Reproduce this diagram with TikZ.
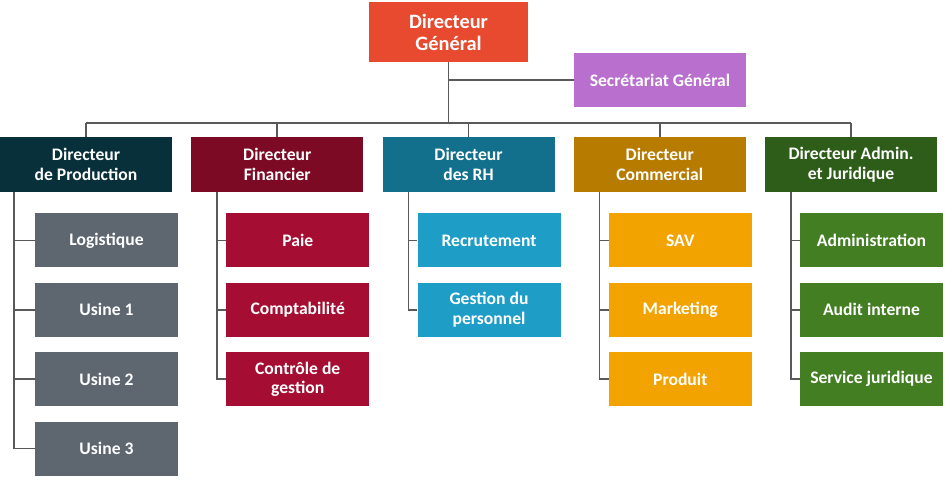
\documentclass[tikz,border=0pt]{standalone}
\usepackage{fontspec}
\setmainfont{Carlito}
\usetikzlibrary{positioning}

\definecolor{dgred}{HTML}{E84A2F}
\definecolor{secpurple}{HTML}{B86FCD}
\definecolor{prodhead}{HTML}{07303B}
\definecolor{prodsub}{HTML}{5E6670}
\definecolor{finhead}{HTML}{7C0A25}
\definecolor{finsub}{HTML}{A50E32}
\definecolor{rhhead}{HTML}{13708D}
\definecolor{rhsub}{HTML}{1E9DC6}
\definecolor{comhead}{HTML}{B77B00}
\definecolor{comsub}{HTML}{F2A300}
\definecolor{admhead}{HTML}{2E5D19}
\definecolor{admsub}{HTML}{437E23}
\definecolor{linegray}{HTML}{595959}

\begin{document}
\begin{tikzpicture}[x=1pt,y=-1pt,
    box/.style={text=white, align=center, inner sep=2pt,
      font=\fontsize{17.6}{19.5}\selectfont\bfseries},
    head/.style={box, fill=#1, minimum width=172pt, minimum height=55pt},
    sub/.style={box, fill=#1, minimum width=143pt, minimum height=54pt},
    link/.style={draw=linegray, line width=1.6pt},
    node distance=15pt]
  \useasboundingbox (0,0) rectangle (947,479);

  \node[box, fill=dgred, minimum width=159pt, minimum height=60pt,
    font=\fontsize{20.4}{22}\selectfont\bfseries] (dg) at (448.5,32) {Directeur\\Général};
  \node[box, fill=secpurple, minimum width=172pt, minimum height=54pt] (sec) at (660,80) {Secrétariat Général};

  \node[head=prodhead] (prod) at (86,164.5) {Directeur\\de Production};
  \node[head=finhead] (fin) at (277.25,164.5) {Directeur\\Financier};
  \node[head=rhhead] (rh) at (468.5,164.5) {Directeur\\des RH};
  \node[head=comhead] (com) at (659.75,164.5) {Directeur\\Commercial};
  \node[head=admhead] (adm) at (851,164.5) {Directeur Admin.\\et Juridique};

  \node[sub=prodsub, below right=21pt and 35pt of prod.south west] (logi) {Logistique};
  \node[sub=prodsub, below=of logi] (usine1) {Usine 1};
  \node[sub=prodsub, below=of usine1] (usine2) {Usine 2};
  \node[sub=prodsub, below=of usine2] (usine3) {Usine 3};

  \node[sub=finsub, below right=21pt and 35pt of fin.south west] (paie) {Paie};
  \node[sub=finsub, below=of paie] (compta) {Comptabilité};
  \node[sub=finsub, below=of compta] (controle) {Contrôle de\\gestion};

  \node[sub=rhsub, below right=21pt and 35pt of rh.south west] (recru) {Recrutement};
  \node[sub=rhsub, below=of recru] (gestion) {Gestion du\\personnel};

  \node[sub=comsub, below right=21pt and 35pt of com.south west] (sav) {SAV};
  \node[sub=comsub, below=of sav] (marketing) {Marketing};
  \node[sub=comsub, below=of marketing] (produit) {Produit};

  \node[sub=admsub, below right=21pt and 35pt of adm.south west] (admin) {Administration};
  \node[sub=admsub, below=of admin] (audit) {Audit interne};
  \node[sub=admsub, below=of audit] (juridique) {Service juridique};

  \coordinate (busl) at (86,123);
  \coordinate (busr) at (851,123);
  \draw[link] (dg.south) -- (dg.south |- busl);
  \draw[link] (sec.west) -- (sec.west -| dg.south);
  \draw[link] (busl) -- (busr);
  \draw[link] (prod.north) -- (prod.north |- busl);
  \draw[link] (fin.north) -- (fin.north |- busl);
  \draw[link] (rh.north) -- (rh.north |- busl);
  \draw[link] (com.north) -- (com.north |- busl);
  \draw[link] (adm.north) -- (adm.north |- busl);

  \coordinate[right=14pt of prod.south west] (prodtrunk);
  \draw[link] (prodtrunk) |- (usine3.west);
  \draw[link] (prodtrunk |- logi.west) -- (logi.west);
  \draw[link] (prodtrunk |- usine1.west) -- (usine1.west);
  \draw[link] (prodtrunk |- usine2.west) -- (usine2.west);

  \coordinate[right=26pt of fin.south west] (fintrunk);
  \draw[link] (fintrunk) |- (controle.west);
  \draw[link] (fintrunk |- paie.west) -- (paie.west);
  \draw[link] (fintrunk |- compta.west) -- (compta.west);

  \coordinate[right=26pt of rh.south west] (rhtrunk);
  \draw[link] (rhtrunk) |- (gestion.west);
  \draw[link] (rhtrunk |- recru.west) -- (recru.west);

  \coordinate[right=26pt of com.south west] (comtrunk);
  \draw[link] (comtrunk) |- (produit.west);
  \draw[link] (comtrunk |- sav.west) -- (sav.west);
  \draw[link] (comtrunk |- marketing.west) -- (marketing.west);

  \coordinate[right=26pt of adm.south west] (admtrunk);
  \draw[link] (admtrunk) |- (juridique.west);
  \draw[link] (admtrunk |- admin.west) -- (admin.west);
  \draw[link] (admtrunk |- audit.west) -- (audit.west);
\end{tikzpicture}
\end{document}
